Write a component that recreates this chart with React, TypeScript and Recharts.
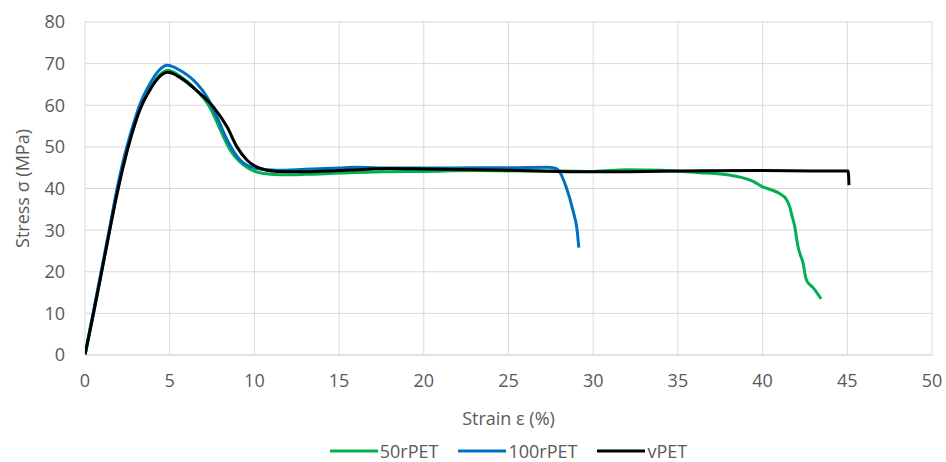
import React from "react";
import { LineChart, Line, XAxis, YAxis, CartesianGrid, Legend } from "recharts";

interface Pt { x: number; y: number }

// stress–strain curves (strain %, stress MPa)
const pet50: Pt[] = [
  { x: 0, y: 0 }, { x: 0.5, y: 10 }, { x: 1, y: 20.5 }, { x: 1.5, y: 31 }, { x: 1.75, y: 36.5 },
  { x: 2.25, y: 45.5 }, { x: 2.75, y: 53 }, { x: 3.25, y: 59.3 }, { x: 3.85, y: 64 }, { x: 4.35, y: 67 },
  { x: 4.9, y: 68.4 }, { x: 5.6, y: 67 }, { x: 6.6, y: 63.5 }, { x: 7.4, y: 59.3 }, { x: 8.0, y: 54 },
  { x: 8.58, y: 49.2 }, { x: 9.37, y: 45.6 }, { x: 10.55, y: 43.6 }, { x: 11.7, y: 43.3 }, { x: 13, y: 43.4 },
  { x: 15, y: 43.7 }, { x: 17.5, y: 44 }, { x: 20, y: 44.1 }, { x: 23, y: 44.3 }, { x: 26, y: 44.2 },
  { x: 28, y: 44.2 }, { x: 30, y: 44.1 }, { x: 32, y: 44.5 }, { x: 34, y: 44.4 }, { x: 36.3, y: 43.8 },
  { x: 37.5, y: 43.5 }, { x: 38.8, y: 42.6 }, { x: 39.5, y: 41.6 }, { x: 40, y: 40.4 }, { x: 40.5, y: 39.7 },
  { x: 41, y: 38.8 }, { x: 41.4, y: 37.4 }, { x: 41.6, y: 35.6 }, { x: 41.75, y: 33.2 }, { x: 41.9, y: 30.8 },
  { x: 42.0, y: 28.2 }, { x: 42.1, y: 25.9 }, { x: 42.25, y: 23.8 }, { x: 42.4, y: 21.9 }, { x: 42.5, y: 19.5 },
  { x: 42.6, y: 17.9 }, { x: 42.95, y: 16.3 }, { x: 43.2, y: 15 }, { x: 43.45, y: 13.5 },
];

const pet100: Pt[] = [
  { x: 0, y: 0 }, { x: 0.5, y: 10.5 }, { x: 1, y: 21 }, { x: 1.5, y: 31.5 }, { x: 1.75, y: 37 },
  { x: 2.25, y: 46.5 }, { x: 2.75, y: 54 }, { x: 3.25, y: 60.3 }, { x: 3.85, y: 65.3 }, { x: 4.35, y: 68.3 },
  { x: 4.85, y: 69.6 }, { x: 5.6, y: 68.4 }, { x: 6.6, y: 65.2 }, { x: 7.2, y: 62 }, { x: 7.8, y: 57.1 },
  { x: 8.4, y: 51.6 }, { x: 9.17, y: 46.8 }, { x: 10.16, y: 44.8 }, { x: 11.3, y: 44.4 }, { x: 13, y: 44.6 },
  { x: 15, y: 44.9 }, { x: 16, y: 45.1 }, { x: 18, y: 44.9 }, { x: 20, y: 44.9 }, { x: 23, y: 45 },
  { x: 25, y: 45 }, { x: 27.3, y: 45.1 }, { x: 27.8, y: 44.8 }, { x: 28.05, y: 43.8 }, { x: 28.4, y: 40.4 },
  { x: 28.8, y: 34.8 }, { x: 29.05, y: 30 }, { x: 29.15, y: 25.8 },
];

const vpet: Pt[] = [
  { x: 0, y: 0 }, { x: 0.5, y: 10 }, { x: 1, y: 20.3 }, { x: 1.5, y: 30.8 }, { x: 1.78, y: 36.5 },
  { x: 2.27, y: 45.5 }, { x: 2.76, y: 53 }, { x: 3.25, y: 59 }, { x: 3.85, y: 63.8 }, { x: 4.34, y: 66.6 },
  { x: 4.9, y: 67.9 }, { x: 5.6, y: 66.7 }, { x: 6.6, y: 63.5 }, { x: 7.6, y: 59.5 }, { x: 8.4, y: 54.7 },
  { x: 8.97, y: 50 }, { x: 9.57, y: 46.8 }, { x: 10.36, y: 44.8 }, { x: 11.3, y: 44.1 }, { x: 13, y: 44 },
  { x: 15, y: 44.3 }, { x: 18, y: 44.8 }, { x: 20, y: 44.7 }, { x: 25, y: 44.4 }, { x: 30, y: 44 },
  { x: 35, y: 44.2 }, { x: 40, y: 44.3 }, { x: 43, y: 44.2 }, { x: 45.05, y: 44.2 }, { x: 45.1, y: 40.8 },
];

const xTicks = [0, 5, 10, 15, 20, 25, 30, 35, 40, 45, 50];
const yTicks = [0, 10, 20, 30, 40, 50, 60, 70, 80];

const series = [
  { name: "50rPET", data: pet50, color: "#00B050" },
  { name: "100rPET", data: pet100, color: "#0070C0" },
  { name: "vPET", data: vpet, color: "#000000" },
];

const FONT = "'Open Sans', sans-serif";
const TEXT = "#595959";
const GRID = "#D9D9D9";

function LegendRow() {
  return (
    <div style={{ display: "flex", justifyContent: "center", alignItems: "center", gap: 20, width: 847, height: 20, lineHeight: "20px", fontFamily: FONT, fontSize: 18, color: TEXT }}>
      {series.map((s) => (
        <div key={s.name} style={{ display: "flex", alignItems: "center", gap: 2, height: 20 }}>
          <svg width={48} height={10}><line x1={0} y1={5} x2={48} y2={5} stroke={s.color} strokeWidth={3} /></svg>
          <span style={{ whiteSpace: "nowrap" }}>{s.name}</span>
        </div>
      ))}
    </div>
  );
}

export default function App() {
  const tick = { fontSize: 18, fill: TEXT, fontFamily: FONT };
  return (
    <div style={{ position: "absolute", left: 0, top: 0, background: "#fff" }}>
      <LineChart width={946} height={462} margin={{ top: 22, right: 14, left: 0, bottom: 0 }}>
        <CartesianGrid stroke={GRID} strokeWidth={1} />
        <XAxis
          dataKey="x" type="number" domain={[0, 50]} ticks={xTicks} allowDataOverflow
          height={107} tickLine={false} tickSize={0} tickMargin={19}
          axisLine={{ stroke: GRID }} tick={tick}
          label={{ value: "Strain ε (%)", position: "center", dy: 10, style: { fontSize: 18, fill: TEXT, fontFamily: FONT } }}
        />
        <YAxis
          type="number" domain={[0, 80]} ticks={yTicks} width={85}
          tickLine={false} tickSize={0} tickMargin={20} axisLine={false} tick={tick}
          label={{ value: "Stress σ (MPa)", angle: -90, position: "center", dx: -20, style: { fontSize: 18, fill: TEXT, fontFamily: FONT, textAnchor: "middle" } }}
        />
        {series.map((s) => (
          <Line key={s.name} data={s.data} dataKey="y" name={s.name} type="monotone"
            stroke={s.color} strokeWidth={3} dot={false} activeDot={false} isAnimationActive={false} />
        ))}
        <Legend layout="horizontal" verticalAlign="middle" align="center"
          wrapperStyle={{ top: 441, left: 85, width: 847, height: 20 }} content={() => <LegendRow />} />
      </LineChart>
    </div>
  );
}
